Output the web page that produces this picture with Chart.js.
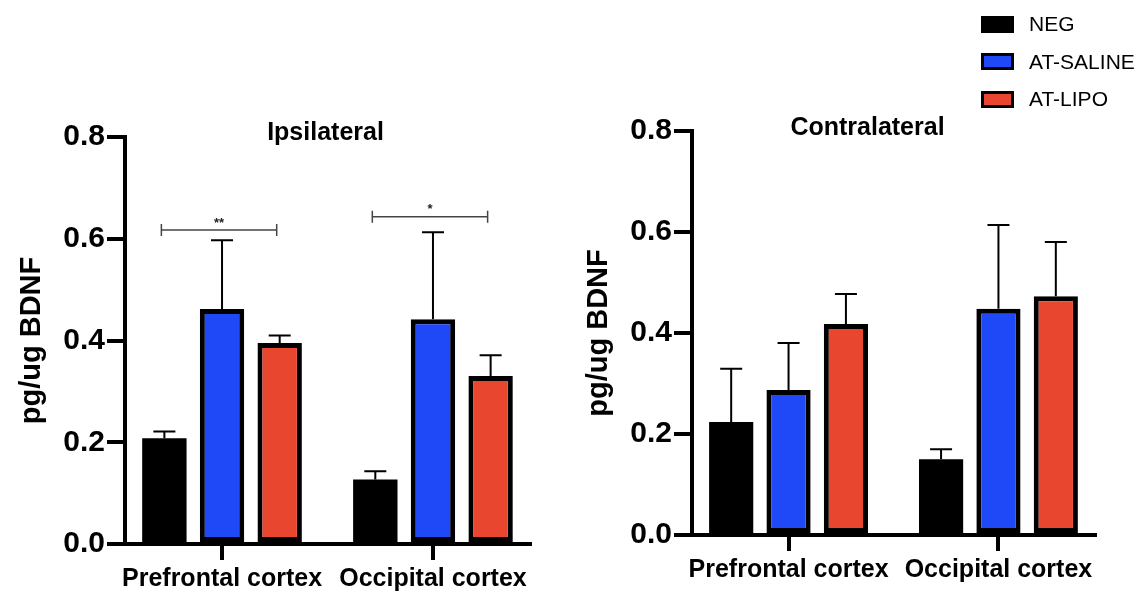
<!DOCTYPE html>
<html>
<head>
<meta charset="utf-8">
<title>BDNF ipsilateral / contralateral</title>
<script src="https://cdn.jsdelivr.net/npm/chart.js@4.4.1/dist/chart.umd.min.js"></script>
<style>
    body { margin: 0; background: #fff; font-family: "Liberation Sans", Arial, sans-serif; }
    #wrap { position: relative; width: 1144px; height: 592px; overflow: hidden; }
    #leftChart { position: absolute; left: 0; top: 0; }
    #rightChart { position: absolute; left: 572px; top: 0; }
    #legend { position: absolute; left: 981px; top: 12px; }
    .item { position: absolute; left: 0; display: flex; align-items: center; white-space: nowrap; font-size: 21px; color: #000; }
    .box { width: 27px; height: 11px; border: 3px solid #000; margin-right: 15px; }
</style>
</head>
<body>
<div id="wrap">
    <canvas id="leftChart" width="572" height="592"></canvas>
    <canvas id="rightChart" width="572" height="592"></canvas>
    <div id="legend"></div>
</div>
<script>
// categories and groups
const regions = ['Prefrontal cortex', 'Occipital cortex'];
const groups = ['NEG', 'AT-SALINE', 'AT-LIPO'];
const groupColors = ['#000000', '#1f48f6', '#e9462f'];
const yTicks = [0, 0.2, 0.4, 0.6, 0.8];

// Ipsilateral: means and SEM (upper error only)
const ipsiNeg = [0.208, 0.127];
const ipsiSaline = [0.462, 0.442];
const ipsiLipo = [0.395, 0.330];
const ipsiNegErr = [0.013, 0.016];
const ipsiSalineErr = [0.135, 0.171];
const ipsiLipoErr = [0.015, 0.041];

// Contralateral
const contraNeg = [0.224, 0.150];
const contraSaline = [0.287, 0.448];
const contraLipo = [0.418, 0.473];
const contraNegErr = [0.105, 0.020];
const contraSalineErr = [0.093, 0.166];
const contraLipoErr = [0.059, 0.107];

// significance brackets (ipsilateral only)
const bracketLevels = [0.617, 0.643];
const bracketMarks = ['**', '*'];

const FONT = '"Liberation Sans", Arial, Helvetica, sans-serif';

// draws the upward SEM whiskers on top of each bar
const errorBarPlugin = {
    id: 'errorBars',
    afterDatasetsDraw(chart) {
        const ctx = chart.ctx;
        const yScale = chart.scales.y;
        ctx.save();
        ctx.strokeStyle = '#000';
        ctx.lineWidth = 2;
        chart.data.datasets.forEach((ds, i) => {
            chart.getDatasetMeta(i).data.forEach((bar, j) => {
                const top = yScale.getPixelForValue(ds.data[j].y + ds.sem[j]);
                ctx.beginPath();
                ctx.moveTo(bar.x, bar.y);
                ctx.lineTo(bar.x, top);
                ctx.moveTo(bar.x - 11, top);
                ctx.lineTo(bar.x + 11, top);
                ctx.stroke();
            });
        });
        ctx.restore();
    }
};

// NEG vs AT-LIPO comparison brackets
const bracketPlugin = {
    id: 'brackets',
    afterDatasetsDraw(chart, args, opts) {
        if (!opts.levels) return;
        const ctx = chart.ctx;
        const yScale = chart.scales.y;
        const first = chart.getDatasetMeta(0).data;
        const last = chart.getDatasetMeta(chart.data.datasets.length - 1).data;
        ctx.save();
        ctx.strokeStyle = '#444';
        ctx.fillStyle = '#222';
        ctx.lineWidth = 1.5;
        ctx.font = 'bold 13px ' + FONT;
        ctx.textAlign = 'center';
        ctx.textBaseline = 'middle';
        opts.levels.forEach((level, j) => {
            const x1 = first[j].x - 3;
            const x2 = last[j].x - 3;
            const py = yScale.getPixelForValue(level);
            ctx.beginPath();
            ctx.moveTo(x1, py); ctx.lineTo(x2, py);
            ctx.moveTo(x1, py - 6); ctx.lineTo(x1, py + 6);
            ctx.moveTo(x2, py - 6); ctx.lineTo(x2, py + 6);
            ctx.stroke();
            ctx.fillText(opts.marks[j], (x1 + x2) / 2, py - 7);
        });
        ctx.restore();
    }
};

// panel title drawn just over the top of the plot area
const panelTitlePlugin = {
    id: 'panelTitle',
    afterDraw(chart, args, opts) {
        const a = chart.chartArea;
        const ctx = chart.ctx;
        ctx.save();
        ctx.font = 'bold 25px ' + FONT;
        ctx.fillStyle = '#000';
        ctx.textAlign = 'center';
        ctx.textBaseline = 'middle';
        ctx.fillText(opts.text, (a.left + a.right) / 2 + opts.dx, a.top + opts.dy);
        ctx.restore();
    }
};

function makeChart(canvasId, title, means, errs, brackets, L) {
    const ctx = document.getElementById(canvasId).getContext('2d');
    return new Chart(ctx, {
        type: 'bar',
        data: {
            datasets: groups.map((g, i) => ({
                label: g,
                data: means[i].map((v, j) => ({ x: j, y: v })),
                sem: errs[i],
                backgroundColor: groupColors[i],
                borderColor: '#000',
                // black bar needs no outline (avoids an anti-alias seam)
                borderWidth: i === 0 ? 0 : 5,
                borderSkipped: false,
                categoryPercentage: 0.82,
                barPercentage: 0.77
            }))
        },
        options: {
            responsive: false,
            animation: false,
            layout: { padding: { top: L.top, right: L.right, bottom: 0, left: 0 } },
            plugins: {
                legend: { display: false },
                tooltip: { enabled: false },
                panelTitle: { text: title, dx: L.titleDx, dy: L.titleDy },
                brackets: brackets
            },
            scales: {
                x: {
                    type: 'linear',
                    min: -0.46,
                    max: 1.46,
                    offset: false,
                    afterBuildTicks: s => { s.ticks = regions.map((_, j) => ({ value: j })); },
                    afterFit: s => { s.height = L.xh; },
                    ticks: {
                        autoSkip: false,
                        maxRotation: 0,
                        padding: 4,
                        color: '#000',
                        font: { family: FONT, size: 25, weight: 'bold' },
                        callback: (v, j) => regions[j]
                    },
                    grid: { drawOnChartArea: false, offset: false, tickLength: 16, lineWidth: 4, color: '#000' },
                    border: { display: true, width: 4, color: '#000' }
                },
                y: {
                    min: 0,
                    max: 0.8,
                    afterBuildTicks: s => { s.ticks = yTicks.map(v => ({ value: v })); },
                    afterFit: s => { s.width = L.yw; },
                    ticks: {
                        padding: 2,
                        color: '#000',
                        font: { family: FONT, size: 30, weight: 'bold' },
                        callback: v => v.toFixed(1)
                    },
                    grid: { drawOnChartArea: false, tickLength: 18, lineWidth: 4, color: '#000' },
                    border: { display: true, width: 4, color: '#000' },
                    title: {
                        display: true,
                        text: 'pg/ug BDNF',
                        color: '#000',
                        padding: { top: L.titlePad, bottom: 0 },
                        font: { family: FONT, size: 29, weight: 'bold' }
                    }
                }
            }
        },
        plugins: [errorBarPlugin, bracketPlugin, panelTitlePlugin]
    });
}

makeChart('leftChart', 'Ipsilateral',
    [ipsiNeg, ipsiSaline, ipsiLipo],
    [ipsiNegErr, ipsiSalineErr, ipsiLipoErr],
    { levels: bracketLevels, marks: bracketMarks },
    { top: 137, right: 42, xh: 48, yw: 125, titlePad: 15, titleDx: -2, titleDy: -4 });

makeChart('rightChart', 'Contralateral',
    [contraNeg, contraSaline, contraLipo],
    [contraNegErr, contraSalineErr, contraLipoErr],
    {},
    { top: 131, right: 49, xh: 57, yw: 120, titlePad: 10, titleDx: -26, titleDy: -3 });

// legend
const legend = document.getElementById('legend');
groups.forEach((g, i) => {
    const item = document.createElement('div');
    item.className = 'item';
    item.style.top = (i * 37.5) + 'px';
    item.innerHTML = `<span class="box" style="background:${groupColors[i]}"></span><span>${g}</span>`;
    legend.appendChild(item);
});
</script>
</body>
</html>
